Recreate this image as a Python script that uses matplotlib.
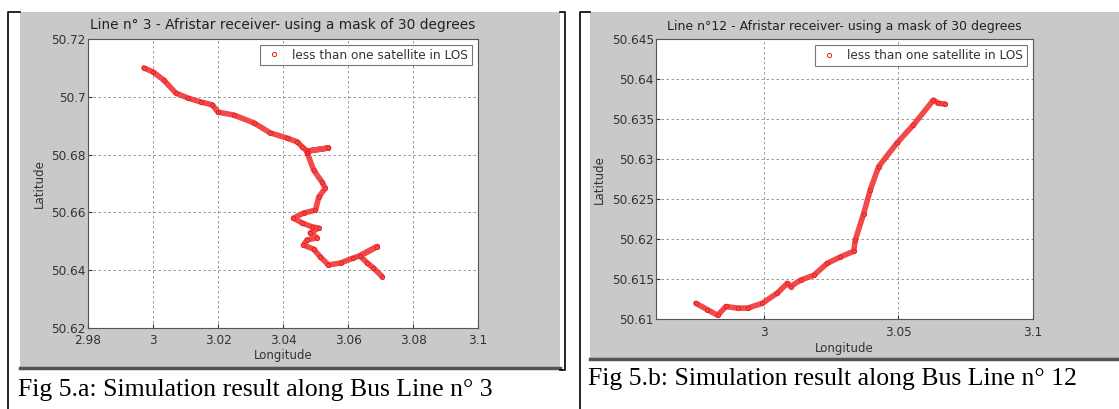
import matplotlib.pyplot as plt
from matplotlib.patches import Rectangle

# Bus line 3 trace (longitude, latitude)
lon3 = [2.9972, 3.0000, 3.0033, 3.0070, 3.0107, 3.0147, 3.0183, 3.0200, 3.0248,
        3.0310, 3.0361, 3.0413, 3.0444, 3.0460, 3.0474, 3.0540, 3.0474, 3.0475,
        3.0494, 3.0520, 3.0530, 3.0510, 3.0500, 3.0464, 3.0432, 3.0460, 3.0490,
        3.0510, 3.0484, 3.0505, 3.0474, 3.0463, 3.0494, 3.0515, 3.0540, 3.0577,
        3.0616, 3.0637, 3.0690, 3.0637, 3.0659, 3.0678, 3.0705]
lat3 = [50.7100, 50.7086, 50.7058, 50.7013, 50.6996, 50.6982, 50.6972, 50.6947,
        50.6937, 50.6910, 50.6875, 50.6857, 50.6844, 50.6826, 50.6812, 50.6823,
        50.6812, 50.6805, 50.6747, 50.6705, 50.6684, 50.6653, 50.6608, 50.6598,
        50.6580, 50.6563, 50.6550, 50.6546, 50.6529, 50.6512, 50.6505, 50.6487,
        50.6473, 50.6446, 50.6418, 50.6425, 50.6442, 50.6450, 50.6482, 50.6450,
        50.6425, 50.6408, 50.6378]

# Bus line 12 trace
lon12 = [2.9748, 2.9791, 2.9829, 2.9860, 2.9903, 2.9940, 2.9995, 3.0051, 3.0088,
         3.0100, 3.0137, 3.0186, 3.0236, 3.0285, 3.0334, 3.0340, 3.0371, 3.0396,
         3.0427, 3.0494, 3.0556, 3.0630, 3.0649, 3.0674]
lat12 = [50.6120, 50.6112, 50.6105, 50.6116, 50.6114, 50.6114, 50.6120, 50.6133,
         50.6145, 50.6141, 50.6149, 50.6155, 50.6170, 50.6178, 50.6185, 50.6199,
         50.6232, 50.6262, 50.6291, 50.6320, 50.6343, 50.6374, 50.6370, 50.6369]

xt3 = [2.98, 3.0, 3.02, 3.04, 3.06, 3.08, 3.1]
xl3 = ['2.98', '3', '3.02', '3.04', '3.06', '3.08', '3.1']
yt3 = [50.62, 50.64, 50.66, 50.68, 50.70, 50.72]
yl3 = ['50.62', '50.64', '50.66', '50.68', '50.7', '50.72']

xt12 = [3.0, 3.05, 3.1]
xl12 = ['3', '3.05', '3.1']
yt12 = [50.61, 50.615, 50.62, 50.625, 50.63, 50.635, 50.64, 50.645]
yl12 = ['50.61', '50.615', '50.62', '50.625', '50.63', '50.635', '50.64', '50.645']

title3 = 'Line n° 3 - Afristar receiver- using a mask of 30 degrees'
title12 = 'Line n°12 - Afristar receiver- using a mask of 30 degrees'
cap3 = 'Fig 5.a: Simulation result along Bus Line n° 3'
cap12 = 'Fig 5.b: Simulation result along Bus Line n° 12'
legend_text = 'less than one satellite in LOS'

W, H = 1119, 409
fig = plt.figure(figsize=(W / 100, H / 100), dpi=100)
fig.patch.set_facecolor('white')
txt = '#333333'


def fx(px):
    return px / W


def fy(py):
    return 1 - py / H


# gray panels behind the axes
bg = fig.add_axes([0, 0, 1, 1], zorder=-5)
bg.set_xlim(0, W)
bg.set_ylim(H, 0)
bg.axis('off')
bg.add_patch(Rectangle((20, 12), 540, 356, facecolor='#c9c9c9', edgecolor='none'))
bg.add_patch(Rectangle((590, 12), 529, 347, facecolor='#c9c9c9', edgecolor='none'))
# dark bottom edges
for x0, x1, y in [(20, 560, 368), (590, 1119, 359)]:
    bg.plot([x0, x1], [y, y], color='#555555', lw=2.5)
# table borders
for xs, ys in [([20, 8, 8], [12, 12, 409]),
               ([560, 565, 565, 560], [12, 12, 370, 370]),
               ([590, 580, 580], [12, 12, 409])]:
    bg.plot(xs, ys, color='black', lw=1.2)


def panel(rect, lon, lat, xlim, ylim, xt, xl, yt, yl, title, tsize, xpad, xlpad):
    ax = fig.add_axes(rect)
    ax.set_facecolor('white')
    ax.plot(lon, lat, color='#ee2a2a', lw=4, alpha=0.85, solid_capstyle='round', zorder=3)
    ax.plot(lon, lat, 'o', ms=3, mfc='none', mec='#e82020', mew=0.7, zorder=4,
            label=legend_text)
    ax.set_xlim(xlim)
    ax.set_ylim(ylim)
    ax.set_xticks(xt)
    ax.set_xticklabels(xl)
    ax.set_yticks(yt)
    ax.set_yticklabels(yl)
    ax.tick_params(labelsize=8.7, colors=txt, length=3, direction='in')
    ax.tick_params(axis='x', pad=xpad)
    ax.tick_params(axis='y', pad=1.5)
    ax.grid(True, color='#888888', ls=(0, (3, 3)), lw=0.6)
    for s in ax.spines.values():
        s.set_color('#555555')
        s.set_linewidth(0.8)
    ax.set_xlabel('Longitude', fontsize=8.5, color=txt, labelpad=xlpad)
    ax.set_ylabel('Latitude', fontsize=8.5, color=txt, labelpad=4)
    ax.set_title(title, fontsize=tsize, color='#222222', pad=7)
    leg = ax.legend(loc='upper right', fontsize=8.7, frameon=True, fancybox=False,
                    handlelength=1.8, borderpad=0.3, borderaxespad=0.5, handletextpad=0.6)
    leg.get_frame().set_edgecolor('#555555')
    leg.get_frame().set_linewidth(0.8)
    for t in leg.get_texts():
        t.set_color(txt)
    return ax


panel([fx(88), fy(328), fx(390), 289 / H], lon3, lat3, (2.98, 3.1), (50.62, 50.72),
      xt3, xl3, yt3, yl3, title3, 9.9, 4, 2)
panel([fx(656), fy(319.3), fx(377), 280 / H], lon12, lat12, (2.96, 3.1), (50.61, 50.645),
      xt12, xl12, yt12, yl12, title12, 9.0, 5, 2)

fig.text(fx(18), fy(390), cap3, fontsize=18.5, family='Liberation Serif', va='center', ha='left')
fig.text(fx(588), fy(379), cap12, fontsize=18.5, family='Liberation Serif', va='center', ha='left')

fig.savefig('out.png', dpi=100)
